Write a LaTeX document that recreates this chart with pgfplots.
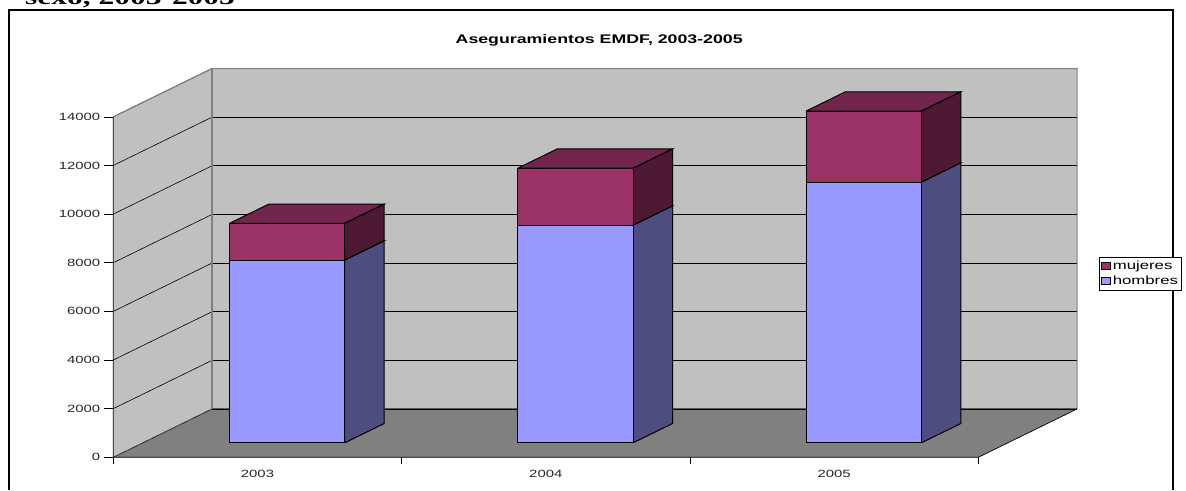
\documentclass[border=0pt]{standalone}
\usepackage{fontspec}
\usepackage{pgfplots}
\pgfplotsset{compat=1.18}
\setmainfont{Liberation Sans}
\newfontfamily\chartfont[FakeStretch=1.42]{Liberation Sans}
\newfontfamily\headfont[FakeStretch=1.45]{Liberation Serif}

\definecolor{wall}{HTML}{C0C0C0}
\definecolor{floorc}{HTML}{808080}
\definecolor{hfront}{HTML}{9999FF}
\definecolor{hside}{HTML}{4D4D80}
\definecolor{mfront}{HTML}{993366}
\definecolor{mside}{HTML}{4D1933}
\definecolor{mtop}{HTML}{73264D}

% x0 x1 zbottom ztop front side top
\newcommand{\cuboid}[7]{
  \addplot3[forget plot,fill=#7,draw=black,line width=1pt] coordinates {(#1,0.3,#4)(#2,0.3,#4)(#2,0.7,#4)(#1,0.7,#4)(#1,0.3,#4)};
  \addplot3[forget plot,fill=#6,draw=black,line width=1pt] coordinates {(#2,0.3,#3)(#2,0.7,#3)(#2,0.7,#4)(#2,0.3,#4)(#2,0.3,#3)};
  \addplot3[forget plot,fill=#5,draw=black,line width=1pt] coordinates {(#1,0.3,#3)(#2,0.3,#3)(#2,0.3,#4)(#1,0.3,#4)(#1,0.3,#3)};
}

\begin{document}
\begin{tikzpicture}
\begin{scope}
\clip (0,0) rectangle (1186pt,490pt);
\node[anchor=base west,inner sep=0pt,font=\headfont\bfseries\fontsize{21.7}{24}\selectfont] at (25pt,485.5pt) {sexo, 2003-2005};
\end{scope}
\begin{axis}[
  at={(113.3pt,32.7pt)},anchor=origin,
  set layers=standard,
  clip=false,
  x={(288.33pt,0pt)},y={(98.7pt,48.3pt)},z={(0pt,0.02433pt)},
  xmin=0,xmax=3,ymin=0,ymax=1,zmin=0,zmax=14000,
  xtick={0.5,1.5,2.5},xticklabels={2003,2004,2005},
  ytick=\empty,
  ztick={0,2000,4000,6000,8000,10000,12000,14000},
  scaled z ticks=false,
  /pgf/number format/assume math mode=true,
  /pgf/number format/1000 sep={},
  zmajorgrids=true,
  major grid style={black,line width=0.6pt},
  axis line style={draw=none},
  major tick length=0pt,
  xtick pos=lower,ztick pos=left,
  xticklabel pos=lower,zticklabel pos=left,
  tick label style={font=\chartfont\fontsize{10.5}{12}\selectfont,text=black!85},
  xticklabel style={anchor=center,xshift=0pt,yshift=-17pt},
  zticklabel style={anchor=east,xshift=-9.5pt,yshift=0pt},
  title={\textbf{Aseguramientos EMDF, 2003-2005}},
  title style={at={(0.396,0.99)},anchor=center,font=\chartfont\fontsize{12.5}{14}\selectfont},
  legend style={at={(0.915,0.448)},anchor=north west,draw=black,line width=0.5pt,
    font=\chartfont\fontsize{11.8}{13}\selectfont,inner sep=1.5pt,
    row sep=1pt,cells={anchor=west}},
  legend image code/.code={\draw[#1,line width=0.7pt] (0pt,-3pt) rectangle (9pt,3.5pt);},
]
% walls and floor
\addplot3[forget plot,on layer=axis background,fill=wall,draw=none] coordinates {(0,0,0)(0,1,0)(0,1,14000)(0,0,14000)(0,0,0)};
\addplot3[forget plot,on layer=axis background,fill=wall,draw=none] coordinates {(0,1,0)(3,1,0)(3,1,14000)(0,1,14000)(0,1,0)};
\addplot3[forget plot,on layer=axis background,fill=floorc,draw=none] coordinates {(0,0,0)(3,0,0)(3,1,0)(0,1,0)(0,0,0)};
\addplot3[forget plot,floorc,line width=1pt] coordinates {(0,0,14000)(0,1,14000)(3,1,14000)(3,1,0)};
\addplot3[forget plot,floorc,line width=1.6pt] coordinates {(0,1,0)(0,1,14000)};
\addplot3[forget plot,floorc!70!black,line width=1pt] coordinates {(0,1,0)(3,1,0)};
\addplot3[forget plot,floorc!70!black,line width=0.9pt,densely dotted] coordinates {(0,0,0)(0,1,0)};
\addplot3[forget plot,black,line width=0.7pt] coordinates {(0,0,14000)(0,0,0)(3,0,0)(3,1,0)};
% tick marks, straight out of the front plane
\pgfplotsinvokeforeach{0,1,2,3}{\addplot3[forget plot,black,line width=0.6pt] coordinates {(#1,0,0)(#1,0,-288)};}
\pgfplotsinvokeforeach{0,2000,4000,6000,8000,10000,12000,14000}{\addplot3[forget plot,black,line width=0.6pt] coordinates {(-0.0312,0,#1)(0,0,#1)};}

\cuboid{0.3}{0.7}{0}{7514}{hfront}{hside}{hside}
\cuboid{0.3}{0.7}{7514}{9022}{mfront}{mside}{mtop}
\cuboid{1.3}{1.7}{0}{8950}{hfront}{hside}{hside}
\cuboid{1.3}{1.7}{8950}{11290}{mfront}{mside}{mtop}
\cuboid{2.3}{2.7}{0}{10720}{hfront}{hside}{hside}
\cuboid{2.3}{2.7}{10720}{13640}{mfront}{mside}{mtop}

\addlegendimage{fill=mfront,draw=black}
\addlegendentry{mujeres}
\addlegendimage{fill=hfront,draw=black}
\addlegendentry{hombres}
\end{axis}
\draw[black,line width=1.7pt] (9.3pt,0pt) -- (9.3pt,480pt) -- (1173.3pt,480pt) -- (1173.3pt,0pt);
\pgfresetboundingbox
\useasboundingbox (0,0) rectangle (1186pt,490pt);
\end{tikzpicture}
\end{document}
